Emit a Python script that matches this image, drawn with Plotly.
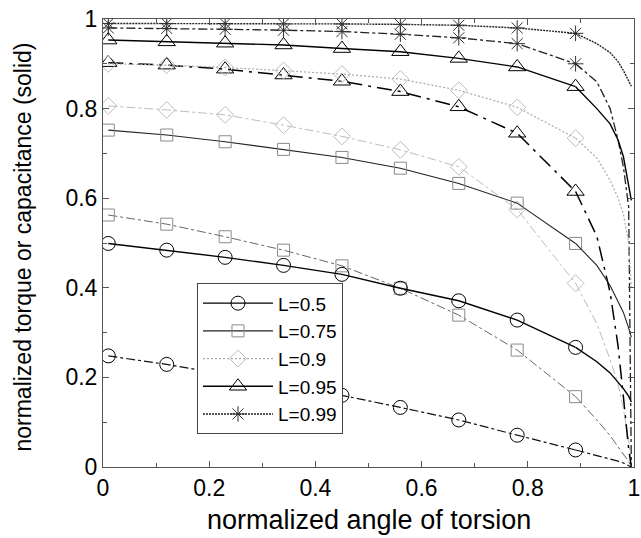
import plotly.graph_objects as go

# angle of torsion sample points (first 9 carry markers)
angle = [0.01, 0.12, 0.23, 0.34, 0.45, 0.56, 0.67, 0.78, 0.89,
         0.93, 0.955, 0.97, 0.98, 0.99, 0.995]
n_markers = 9

labels = ["L=0.5", "L=0.75", "L=0.9", "L=0.95", "L=0.99"]

# capacitance (solid curves)
cap_05 = [0.499, 0.484, 0.468, 0.450, 0.430, 0.399, 0.371, 0.328, 0.267,
          0.235, 0.210, 0.190, 0.175, 0.158, 0.145]
cap_075 = [0.752, 0.741, 0.726, 0.709, 0.691, 0.667, 0.633, 0.589, 0.499,
           0.450, 0.405, 0.370, 0.345, 0.310, 0.290]
cap_09 = [0.900, 0.897, 0.892, 0.885, 0.877, 0.866, 0.841, 0.803, 0.734,
          0.690, 0.640, 0.600, 0.565, 0.500, 0.400]
cap_095 = [0.953, 0.949, 0.946, 0.942, 0.934, 0.927, 0.912, 0.893, 0.849,
           0.800, 0.766, 0.730, 0.693, 0.630, 0.595]
cap_099 = [0.990, 0.990, 0.990, 0.989, 0.989, 0.988, 0.986, 0.980, 0.968,
           0.945, 0.925, 0.905, 0.885, 0.860, 0.850]

# torque (dash-dot curves)
tor_05 = [0.248, 0.229, 0.207, 0.184, 0.160, 0.133, 0.105, 0.071, 0.038,
          0.026, 0.018, 0.013, 0.009, 0.004, 0.000]
tor_075 = [0.5625, 0.542, 0.514, 0.484, 0.449, 0.399, 0.339, 0.261, 0.157,
           0.105, 0.070, 0.045, 0.030, 0.012, 0.000]
tor_09 = [0.806, 0.797, 0.786, 0.763, 0.738, 0.708, 0.670, 0.575, 0.410,
          0.320, 0.240, 0.185, 0.130, 0.060, 0.000]
tor_095 = [0.9025, 0.897, 0.888, 0.875, 0.861, 0.838, 0.804, 0.745, 0.615,
           0.515, 0.390, 0.270, 0.157, 0.040, 0.000]
tor_099 = [0.980, 0.979, 0.977, 0.975, 0.972, 0.966, 0.958, 0.945, 0.900,
           0.860, 0.800, 0.730, 0.670, 0.580, 0.000]

caps = [cap_05, cap_075, cap_09, cap_095, cap_099]
tors = [tor_05, tor_075, tor_09, tor_095, tor_099]

tick_vals = [0, 0.2, 0.4, 0.6, 0.8, 1]
tick_text = ["0", "0.2", "0.4", "0.6", "0.8", "1"]

x_title = "normalized angle of torsion"
y_title = "normalized torque or capacitance (solid)"

styles = [
    dict(mcolor="#000000", symbol="circle-open", size=14,
         cap_color="#000000", cap_dash="solid", cap_w=1.4,
         tor_color="#111111", tor_dash="dashdot", tor_w=1.2),
    dict(mcolor="#8a8a8a", symbol="square-open", size=12,
         cap_color="#222222", cap_dash="solid", cap_w=1.1,
         tor_color="#666666", tor_dash="dashdot", tor_w=1.0),
    dict(mcolor="#bdbdbd", symbol="diamond-open", size=13,
         cap_color="#aaaaaa", cap_dash="2px,2px", cap_w=1.2,
         tor_color="#bdbdbd", tor_dash="dashdot", tor_w=1.0),
    dict(mcolor="#000000", symbol="triangle-up-open", size=15,
         cap_color="#000000", cap_dash="solid", cap_w=1.4,
         tor_color="#000000", tor_dash="longdashdot", tor_w=1.5),
    dict(mcolor="#333333", symbol="asterisk-open", size=13,
         cap_color="#222222", cap_dash="2px,1px", cap_w=1.4,
         tor_color="#222222", tor_dash="dashdot", tor_w=1.3),
]

fig = go.Figure()


def add_curve(name, ys, color, dash, width, st, legend):
    line = dict(color=color, dash=dash, width=width)
    # marked part (also used for the legend entry)
    fig.add_trace(go.Scatter(
        x=angle[:n_markers], y=ys[:n_markers], mode="lines+markers",
        name=name, showlegend=legend, legendgroup=name,
        line=line,
        marker=dict(symbol=st["symbol"], size=st["size"], color=st["mcolor"],
                    line=dict(width=1, color=st["mcolor"])),
    ))
    # steep tail near the end of the range
    fig.add_trace(go.Scatter(
        x=angle[n_markers - 1:], y=ys[n_markers - 1:], mode="lines",
        showlegend=False, legendgroup=name, line=line,
    ))


for lab, tor, st in zip(labels, tors, styles):
    add_curve(lab, tor, st["tor_color"], st["tor_dash"], st["tor_w"], st, False)
for lab, cap, st in zip(labels, caps, styles):
    add_curve(lab, cap, st["cap_color"], st["cap_dash"], st["cap_w"], st, True)

axis_common = dict(
    range=[0, 1], showgrid=False, zeroline=False, automargin=False,
    showline=True, linecolor="#555555", linewidth=1, mirror="allticks",
    ticks="inside", ticklen=6, tickcolor="#555555",
    tickmode="array", tickvals=tick_vals, ticktext=tick_text,
    tickfont=dict(size=23, color="black"), ticklabeloverflow="allow",
    minor=dict(dtick=0.1, tick0=0, ticks="inside", ticklen=4, tickcolor="#555555"),
)

fig.update_layout(
    width=641, height=538,
    margin=dict(l=103, r=7, t=19, b=71),
    paper_bgcolor="white", plot_bgcolor="white",
    font=dict(family="Liberation Sans, Arial, sans-serif", color="black"),
    xaxis=dict(axis_common),
    yaxis=dict(axis_common),
    legend=dict(x=0.177, y=0.41, xanchor="left", yanchor="top",
                bgcolor="white", bordercolor="#444444", borderwidth=1,
                font=dict(size=19), itemwidth=70, tracegroupgap=0,
                itemclick=False),
    annotations=[
        dict(text=y_title, textangle=-90, xref="paper", yref="paper",
             x=-0.1507, y=0.492, xanchor="center", yanchor="middle",
             showarrow=False, font=dict(size=23)),
        dict(text=x_title, xref="paper", yref="paper",
             x=0.5, y=-0.119, xanchor="center", yanchor="middle",
             showarrow=False, font=dict(size=27)),
    ],
)

# remove the browser's default 8px body margin so the figure fills the window
fig.write_html("out.html", config={"displayModeBar": False},
               post_script="document.body.style.margin='0px';")
